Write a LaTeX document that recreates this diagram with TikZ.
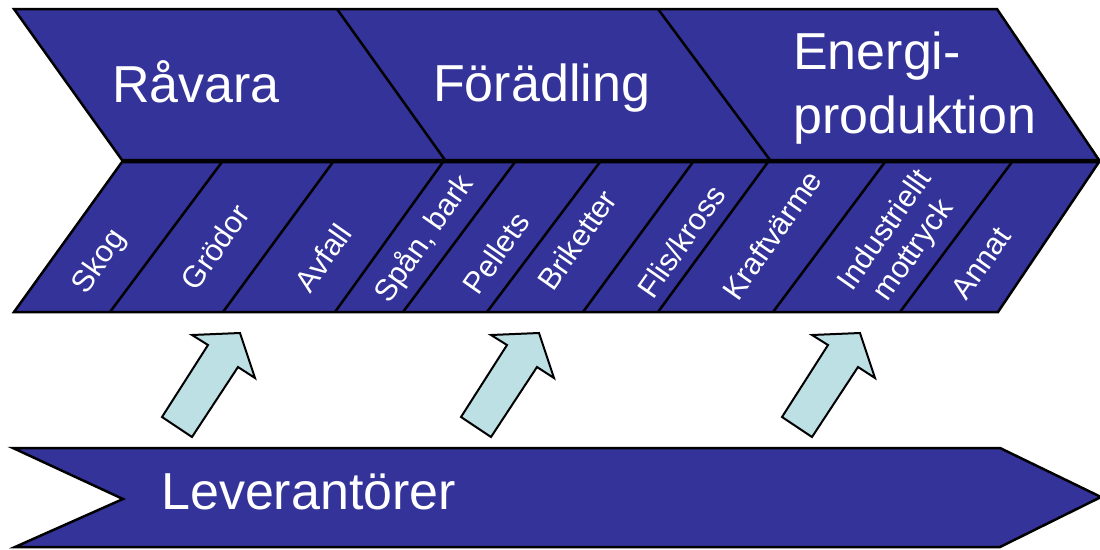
\documentclass[tikz,border=0pt]{standalone}
\usepackage{fontspec}
\setmainfont{Liberation Sans}
\usetikzlibrary{positioning}
\definecolor{chevblue}{RGB}{51,51,153}
\definecolor{lightcyan}{RGB}{189,224,229}
\tikzset{
  band/.style={draw=black,line width=2.5pt,fill=chevblue,line join=miter},
  divider/.style={draw=black,line width=2.5pt},
  headtext/.style={text=white,inner sep=0pt,font=\fontsize{52}{60}\selectfont},
  subtext/.style={text=white,inner sep=0pt,rotate=55,align=center,font=\fontsize{30.5}{35}\selectfont},
  blockarrow/.style={draw=black,line width=2pt,fill=lightcyan,line join=miter}
}

\begin{document}
\begin{tikzpicture}[x=1pt,y=-1pt]
\useasboundingbox (0,0) rectangle (1100,549);

% upper band
\draw[band] (14,9) -- (997,9) -- (1099,160) -- (122,160) -- cycle;
\draw[divider] (337,9) -- (445,160);
\draw[divider] (658,9) -- (770,160);

\node (t1) [headtext,anchor=base west] at (112,102) {Råvara};
\node (t2) [headtext,anchor=base west] at (433,101) {Förädling};
\node (t3) [headtext,anchor=base west] at (793,69) {Energi-};
\node (t4) [headtext,anchor=base west] at (793,133) {produktion};

% lower row
\draw[band] (122,162) -- (1099,162) -- (998,312) -- (14,312) -- cycle;
\draw[divider] (222,162) -- (110,312);
\draw[divider] (333,162) -- (223,312);
\draw[divider] (443,162) -- (335,312);
\draw[divider] (515,162) -- (403,312);
\draw[divider] (600,162) -- (487,312);
\draw[divider] (693,162) -- (583,312);
\draw[divider] (768,162) -- (658,312);
\draw[divider] (885,162) -- (773,312);
\draw[divider] (1012,162) -- (900,312);

\node (s1) [subtext] at (100,262) {Skog};
\node (s2) [subtext] at (215,247) {Grödor};
\node (s3) [subtext] at (323,258) {Avfall};
\node (s4) [subtext] at (424,239) {Spån, bark};
\node (s5) [subtext] at (496,253) {Pellets};
\node (s6) [subtext] at (577,240) {Briketter};
\node (s7) [subtext] at (681,241) {Flis/kross};
\node (s8) [subtext] at (772,235) {Kraftvärme};
\node (s9) [subtext] at (900,241) {Industriellt\\mottryck};
\node (s10) [subtext] at (981,263) {Annat};

% arrows
\draw[blockarrow] (162,417) -- (208,345) -- (192,335) -- (240,333) -- (255,378) -- (238,367) -- (192,437) -- cycle;
\draw[blockarrow,xshift=299pt] (162,417) -- (208,345) -- (192,335) -- (240,333) -- (255,378) -- (238,367) -- (192,437) -- cycle;
\draw[blockarrow,xshift=620pt] (162,417) -- (208,345) -- (192,335) -- (240,333) -- (255,378) -- (238,367) -- (192,437) -- cycle;

% supplier bar
\draw[band] (13,448) -- (1000,448) -- (1101,497) -- (1000,547) -- (15,547) -- (123,499) -- cycle;
\node (lev) [headtext,anchor=base west] at (161,509) {Leverantörer};
\end{tikzpicture}
\end{document}
